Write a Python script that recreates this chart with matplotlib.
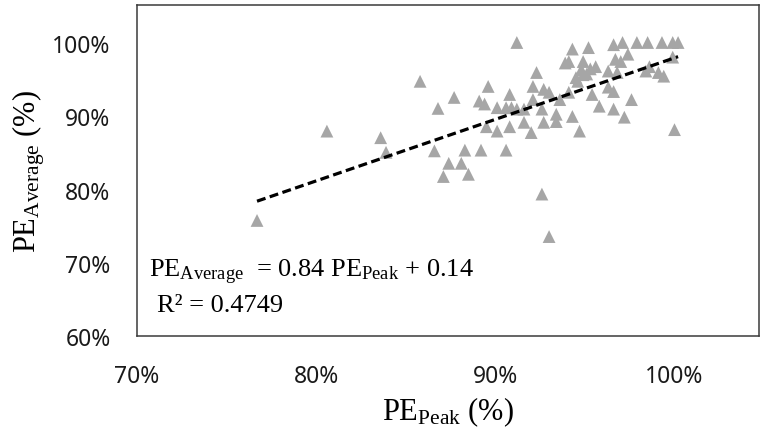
import matplotlib
matplotlib.use("Agg")
import matplotlib.pyplot as plt
import numpy as np
from matplotlib.ticker import FuncFormatter, FixedLocator

plt.rcParams['mathtext.fontset'] = 'custom'
plt.rcParams['mathtext.rm'] = 'Liberation Serif'
plt.rcParams['mathtext.it'] = 'Liberation Serif:italic'

# PE_Peak (%) and PE_Average (%)
pe_peak = [76.7, 80.6, 83.6, 83.9, 85.8, 86.8, 87.7, 86.6, 87.4, 88.1,
           87.1, 88.5, 88.3, 89.2, 90.6, 89.6, 89.1, 89.4, 90.1, 90.6,
           90.8, 89.5, 90.1, 90.8, 91.6, 92.0, 91.2, 91.2, 92.3, 92.1,
           92.7, 93.0, 92.1, 92.6, 92.7, 93.4, 93.4, 94.3, 94.7, 93.6,
           94.1, 94.3, 95.2, 94.9, 94.5, 94.9, 95.6, 95.4, 95.8, 96.3,
           96.6, 96.6, 92.6, 93.0, 94.8, 95.1, 95.3, 94.6, 93.9, 94.1,
           96.3, 96.6, 96.7, 96.8, 97.2, 97.1, 97.9, 98.5, 99.3, 99.9,
           100.2, 97.4, 97.0, 98.6, 99.1, 99.4, 99.9, 98.4, 97.6, 100.0,
           90.9, 91.6]
pe_average = [75.8, 88.0, 87.1, 85.1, 94.8, 91.1, 92.6, 85.3, 83.6, 83.6,
              81.8, 82.1, 85.4, 85.4, 85.4, 94.1, 92.1, 91.7, 91.2, 91.2,
              93.0, 88.6, 88.0, 88.6, 89.2, 87.8, 91.0, 100.1, 96.0, 94.1,
              93.7, 93.3, 92.3, 91.0, 89.2, 90.3, 89.3, 90.0, 88.0, 92.3,
              97.5, 99.2, 99.4, 97.5, 95.3, 95.7, 96.8, 93.0, 91.4, 96.2,
              99.8, 91.0, 79.4, 73.6, 96.4, 95.8, 96.5, 94.8, 97.3, 93.3,
              94.0, 93.4, 97.8, 96.0, 89.9, 100.1, 100.1, 100.1, 100.1, 100.1,
              100.1, 98.5, 97.5, 96.8, 96.0, 95.5, 98.1, 96.2, 92.3, 88.2,
              91.2, 91.0]

fit_slope = 0.84
fit_intercept = 0.14
r_squared = 0.4749

x_ticks = [0.7, 0.8, 0.9, 1.0]
y_ticks = [0.6, 0.7, 0.8, 0.9, 1.0]

x = np.array(pe_peak) / 100.0
y = np.array(pe_average) / 100.0

fig = plt.figure(figsize=(7.61, 4.39), dpi=100)
ax = fig.add_axes([0.180, 0.232, 0.817, 0.754])

ax.scatter(x, y, marker='^', s=85, color='#a6a6a6', edgecolors='none', zorder=2)

xf = np.array([x.min(), x.max()])
ax.plot(xf, fit_slope * xf + fit_intercept, color='black', lw=2.3,
        linestyle=(0, (2.8, 1.4)), zorder=3)

ax.set_xlim(0.7, 1.047)
ax.set_ylim(0.6, 1.052)
ax.xaxis.set_major_locator(FixedLocator(x_ticks))
ax.yaxis.set_major_locator(FixedLocator(y_ticks))
pct = FuncFormatter(lambda v, p: f"{v*100:.0f}%")
ax.xaxis.set_major_formatter(pct)
ax.yaxis.set_major_formatter(pct)
ax.tick_params(axis='both', length=0, labelsize=16.5, colors='#1a1a1a')
ax.tick_params(axis='x', pad=20)
ax.tick_params(axis='y', pad=19)
for lab in ax.get_xticklabels() + ax.get_yticklabels():
    lab.set_fontfamily('Noto Sans')

for sp in ax.spines.values():
    sp.set_color('#3a3a3a')
    sp.set_linewidth(1.1)

ax.set_xlabel(r'$\mathrm{PE}_{\mathrm{Peak}}$ (%)', fontsize=22,
              fontfamily='Liberation Serif', labelpad=5)
ax.set_ylabel(r'$\mathrm{PE}_{\mathrm{Average}}$ (%)', fontsize=22,
              fontfamily='Liberation Serif', labelpad=4)

ax.text(0.02, 0.196,
        r'$\mathrm{PE}_{\mathrm{Average}}$  = ' + f'{fit_slope:.2f} ' +
        r'$\mathrm{PE}_{\mathrm{Peak}}$' + f' + {fit_intercept:.2f}',
        transform=ax.transAxes, fontsize=19, fontfamily='Liberation Serif',
        va='center', ha='left')
ax.text(0.032, 0.094, f'R\u00b2 = {r_squared:.4f}', transform=ax.transAxes,
        fontsize=19, fontfamily='Liberation Serif', va='center', ha='left')

fig.savefig('out.png', dpi=100)
